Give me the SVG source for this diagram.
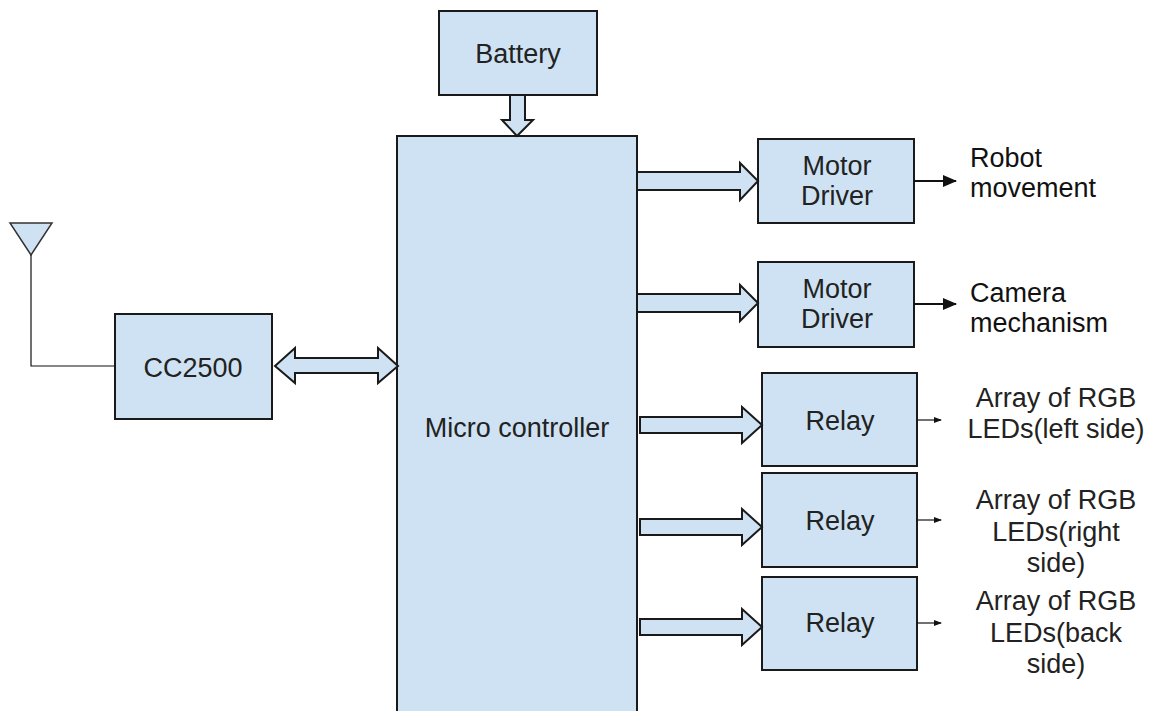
<svg xmlns="http://www.w3.org/2000/svg" width="1158" height="711" viewBox="0 0 1158 711">
<defs>
<style>
.box{fill:#cfe2f3;stroke:#1a1a1a;stroke-width:2}
.blk{fill:#cfe2f3;stroke:#1a1a1a;stroke-width:2;stroke-linejoin:miter}
.t{font-family:"Liberation Sans",Arial,sans-serif;font-size:27px;fill:#222;text-anchor:middle}
.l{font-family:"Liberation Sans",Arial,sans-serif;font-size:27px;fill:#111}
.thick{stroke:#111;stroke-width:2;fill:none}
.thin{stroke:#111;stroke-width:1.2;fill:none}
</style>
<marker id="ah" markerWidth="14" markerHeight="12" refX="13" refY="6" orient="auto" markerUnits="userSpaceOnUse">
<path d="M0,0 L14,6 L0,12 z" fill="#111"/>
</marker>
<marker id="ahs" markerWidth="8" markerHeight="6" refX="7" refY="3" orient="auto" markerUnits="userSpaceOnUse">
<path d="M0,0 L8,3 L0,6 z" fill="#111"/>
</marker>
</defs>
<rect width="1158" height="711" fill="#fff"/>

<g id="antenna">
<polygon points="10,223 52,223 31,255" fill="#cfe2f3" stroke="#333" stroke-width="1.5"/>
</g>

<g id="battery">
<rect class="box" x="439" y="11" width="158" height="84"/>
<text class="t" x="518" y="63">Battery</text>
</g>

<g id="microcontroller">
<rect class="box" x="397" y="136" width="240" height="590"/>
<text class="t" x="517" y="437">Micro controller</text>
</g>

<g id="cc2500">
<rect class="box" x="115" y="314" width="157" height="105"/>
<text class="t" x="193" y="377">CC2500</text>
</g>

<g id="motor1">
<rect class="box" x="758" y="139" width="156" height="84"/>
<text class="t" x="837" y="175">Motor</text>
<text class="t" x="837" y="205">Driver</text>
</g>

<g id="motor2">
<rect class="box" x="758" y="262" width="156" height="85"/>
<text class="t" x="837" y="298">Motor</text>
<text class="t" x="837" y="328">Driver</text>
</g>

<g id="relay1">
<rect class="box" x="762" y="373" width="155" height="93"/>
<text class="t" x="840" y="430">Relay</text>
</g>

<g id="relay2">
<rect class="box" x="762" y="473" width="155" height="94"/>
<text class="t" x="840" y="530">Relay</text>
</g>

<g id="relay3">
<rect class="box" x="762" y="577" width="155" height="93"/>
<text class="t" x="840" y="632">Relay</text>
</g>

<g id="labels">
<text class="l" x="970" y="167">Robot</text>
<text class="l" x="970" y="197">movement</text>
<text class="l" x="970" y="302">Camera</text>
<text class="l" x="970" y="332">mechanism</text>
<text class="t" x="1056" y="407">Array of RGB</text>
<text class="t" x="1056" y="438">LEDs(left side)</text>
<text class="t" x="1056" y="509">Array of RGB</text>
<text class="t" x="1056" y="541">LEDs(right</text>
<text class="t" x="1056" y="572">side)</text>
<text class="t" x="1056" y="610">Array of RGB</text>
<text class="t" x="1056" y="642">LEDs(back</text>
<text class="t" x="1056" y="673">side)</text>
</g>

<g id="connectors">
<polyline class="thin" points="31,255 31,366 115,366" stroke="#333"/>
<polygon class="blk" points="510,95 525,95 525,120 533,120 517,136 502,120 510,120"/>
<polygon class="blk" points="275,366 295,348 295,358 378,358 378,348 398,366 378,383 378,373 295,373 295,383"/>
<polygon class="blk" points="637,172 740,172 740,163 758,181 740,200 740,190 637,190"/>
<polygon class="blk" points="637,294 740,294 740,285 758,303 740,321 740,312 637,312"/>
<polygon class="blk" points="640,417 742,417 742,407 762,425 742,443 742,433 640,433"/>
<polygon class="blk" points="640,519 742,519 742,509 762,527 742,545 742,535 640,535"/>
<polygon class="blk" points="640,619 742,619 742,609 762,627 742,645 742,635 640,635"/>
<line class="thick" x1="914" y1="181" x2="956" y2="181" marker-end="url(#ah)"/>
<line class="thick" x1="914" y1="304" x2="956" y2="304" marker-end="url(#ah)"/>
<line class="thin" x1="917" y1="420" x2="941" y2="420" marker-end="url(#ahs)"/>
<line class="thin" x1="917" y1="520" x2="941" y2="520" marker-end="url(#ahs)"/>
<line class="thin" x1="917" y1="623" x2="941" y2="623" marker-end="url(#ahs)"/>
</g>
</svg>
